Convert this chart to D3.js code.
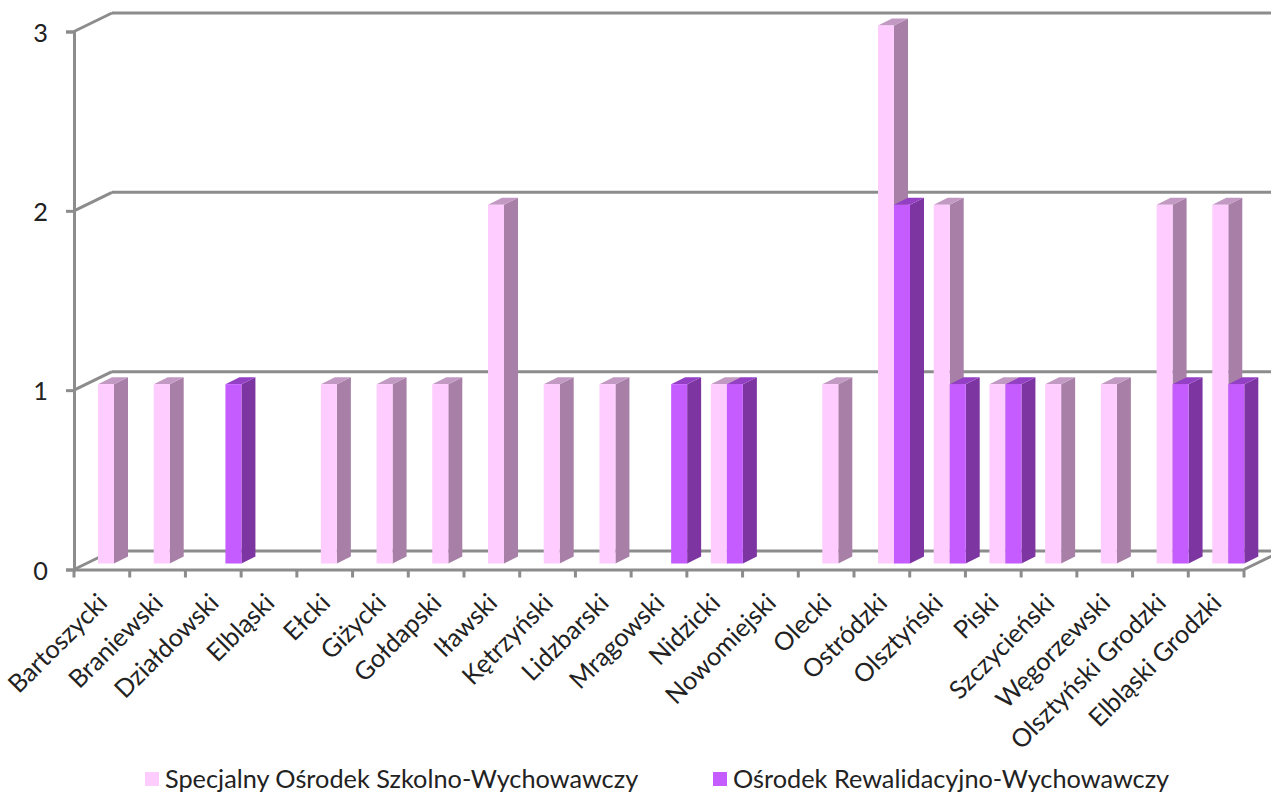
<!DOCTYPE html>
<meta charset="utf-8">
<style>
  html, body { margin: 0; padding: 0; background: #fff; overflow: hidden; }
  text { font-family: "Lato", "Open Sans", sans-serif; fill: #222; }
</style>
<script src="https://d3js.org/d3.v7.min.js"></script>
<svg id="chart" width="1271" height="794"></svg>

<script>
// Data
const categories = ["Bartoszycki", "Braniewski", "Działdowski", "Elbląski", "Ełcki", "Giżycki", "Gołdapski",
  "Iławski", "Kętrzyński", "Lidzbarski", "Mrągowski", "Nidzicki", "Nowomiejski", "Olecki", "Ostródzki",
  "Olsztyński", "Piski", "Szczycieński", "Węgorzewski", "Olsztyński Grodzki", "Elbląski Grodzki"];
const specjalny =    [1, 1, 0, 0, 1, 1, 1, 2, 1, 1, 0, 1, 0, 1, 3, 2, 1, 1, 1, 2, 2];
const rewalidacyjny = [0, 0, 1, 0, 0, 0, 0, 0, 0, 0, 1, 1, 0, 0, 2, 1, 1, 0, 0, 1, 1];
const seriesNames = ["Specjalny Ośrodek Szkolno-Wychowawczy", "Ośrodek Rewalidacyjno-Wychowawczy"];
const yTicks = [0, 1, 2, 3];

const svg = d3.select("#chart");
const grey = "#8c8c8c";

// Scales: front plane of the 3D box
const x = d3.scaleBand().domain(categories).range([74, 1244]);
const y = d3.scaleLinear().domain([0, 3]).range([569.5, 31.5]);
const series = d3.scaleBand().domain([0, 1]).range([24, 56]);

// 3D offsets
const wallDx = 38, wallDy = -18.5;   // front plane -> back wall
const barDx = 14, barDy = -7;        // bar depth
const barLift = 6;                   // bar base sits a bit behind the front edge

// Back wall and floor
const walls = svg.append("g").attr("fill", "none").attr("stroke", grey).attr("stroke-width", 3);
yTicks.forEach(t => {
  walls.append("line")
    .attr("x1", x.range()[0]).attr("y1", y(t))
    .attr("x2", x.range()[0] + wallDx).attr("y2", y(t) + wallDy);
  walls.append("line")
    .attr("x1", x.range()[0] + wallDx).attr("y1", y(t) + wallDy)
    .attr("x2", x.range()[1] + wallDx).attr("y2", y(t) + wallDy);
});
walls.append("line")
  .attr("x1", x.range()[1]).attr("y1", y(0))
  .attr("x2", x.range()[1] + wallDx).attr("y2", y(0) + wallDy);

// Axes
const yAxis = svg.append("g")
  .attr("transform", `translate(${x.range()[0]},0)`)
  .call(d3.axisLeft(y).tickValues(yTicks).tickFormat(d3.format("d")).tickSize(8).tickPadding(18));
const xAxis = svg.append("g")
  .attr("transform", `translate(0,${y(0)})`)
  .call(d3.axisBottom(x).tickSize(0));

[yAxis, xAxis].forEach(a => {
  a.select(".domain").attr("stroke", grey).attr("stroke-width", 3);
  a.selectAll("line").attr("stroke", grey).attr("stroke-width", 3);
  a.selectAll("text").style("font-size", "25.3px");
});
yAxis.selectAll("text").attr("dy", "0.38em");

xAxis.selectAll("text")
  .attr("text-anchor", "end")
  .attr("dx", null).attr("dy", null)
  .attr("y", 0)
  .attr("transform", "translate(7,35) rotate(-45)");

// x ticks sit on the band edges
svg.append("g").selectAll("line")
  .data(d3.range(categories.length + 1))
  .join("line")
  .attr("x1", i => x.range()[0] + i * x.step())
  .attr("x2", i => x.range()[0] + i * x.step())
  .attr("y1", y(0))
  .attr("y2", y(0) + 8)
  .attr("stroke", grey)
  .attr("stroke-width", 3);

// Bars
const palette = [
  { front: "#ffccff", side: "#a77fa7", top: "#c299c2" },
  { front: "#c45cff", side: "#7d35a2", top: "#9440c4" }
];
const bars = svg.append("g");

function drawBar(cat, s, v) {
  if (!v) return;
  const x0 = x(cat) + series(s);
  const x1 = x0 + series.bandwidth();
  const y0 = y(0) - barLift;
  const y1 = y(v) - barLift;
  const c = palette[s];
  const g = bars.append("g");
  g.append("path").attr("fill", c.side)
    .attr("d", `M${x1},${y0}L${x1 + barDx},${y0 + barDy}L${x1 + barDx},${y1 + barDy}L${x1},${y1}Z`);
  g.append("path").attr("fill", c.top)
    .attr("d", `M${x0},${y1}L${x0 + barDx},${y1 + barDy}L${x1 + barDx},${y1 + barDy}L${x1},${y1}Z`);
  g.append("rect").attr("fill", c.front)
    .attr("x", x0).attr("y", y1).attr("width", x1 - x0).attr("height", y0 - y1);
}

categories.forEach((cat, i) => {
  drawBar(cat, 0, specjalny[i]);
  drawBar(cat, 1, rewalidacyjny[i]);
});

// Legend
const legendX = [145, 713];
const legend = svg.append("g").selectAll("g")
  .data(seriesNames)
  .join("g")
  .attr("transform", (d, i) => `translate(${legendX[i]},772)`);
legend.append("rect")
  .attr("width", 14).attr("height", 14)
  .attr("fill", (d, i) => palette[i].front);
legend.append("text")
  .attr("x", 20).attr("y", 16)
  .style("font-size", "25.3px")
  .text(d => d);
</script>
